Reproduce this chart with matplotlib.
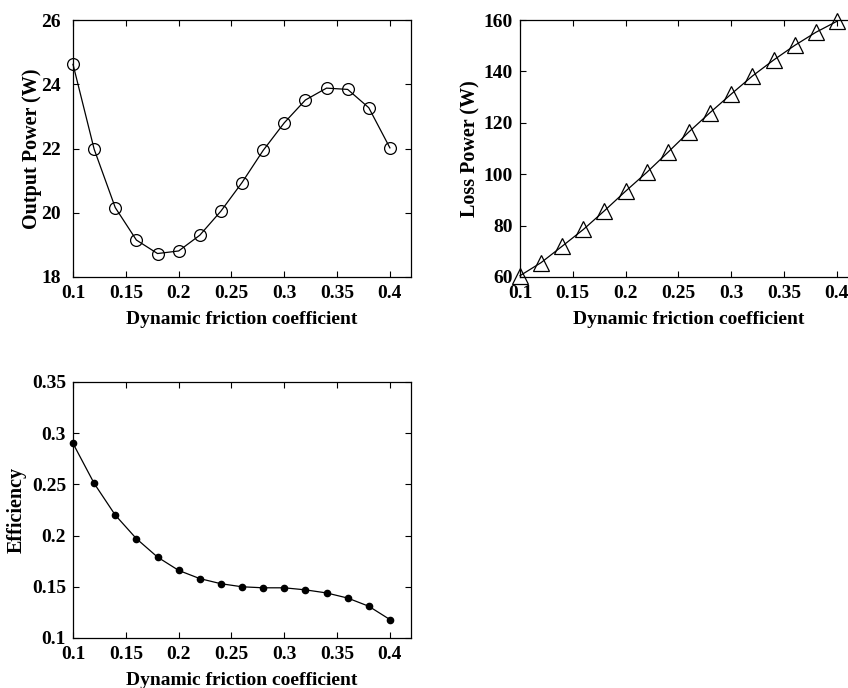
import numpy as np
import matplotlib
matplotlib.use('Agg')
import matplotlib.pyplot as plt

# friction coefficient values
mu = [0.10, 0.12, 0.14, 0.16, 0.18, 0.20, 0.22, 0.24,
      0.26, 0.28, 0.30, 0.32, 0.34, 0.36, 0.38, 0.40]

output_power = [24.62, 21.98, 20.16, 19.15, 18.73, 18.81, 19.30, 20.05,
                20.94, 21.94, 22.80, 23.51, 23.88, 23.84, 23.27, 22.02]

loss_power = [60.5, 65.6, 72.0, 78.5, 85.8, 93.4, 100.7, 108.5,
              116.5, 124.0, 131.2, 138.2, 144.4, 150.1, 155.2, 159.5]

efficiency = [0.290, 0.251, 0.220, 0.197, 0.179, 0.166, 0.158, 0.153,
              0.150, 0.149, 0.149, 0.147, 0.144, 0.139, 0.131, 0.118]

xticks = [0.1, 0.15, 0.2, 0.25, 0.3, 0.35, 0.4]
xticklabels = ['0.1', '0.15', '0.2', '0.25', '0.3', '0.35', '0.4']

plt.rcParams['font.family'] = ['Liberation Serif', 'DejaVu Serif']
plt.rcParams['font.weight'] = 'bold'
plt.rcParams['font.size'] = 14

fig = plt.figure(figsize=(8.48, 6.88), dpi=100)


def style(ax, ylabel, ypad=8, lpad=4):
    ax.set_xlim(0.1, 0.42)
    ax.set_xticks(xticks)
    ax.set_xticklabels(xticklabels)
    ax.tick_params(direction='in', top=True, right=True, length=4, width=0.8,
                   labelsize=14)
    ax.tick_params(axis='x', pad=6)
    ax.tick_params(axis='y', pad=ypad)
    for s in ax.spines.values():
        s.set_linewidth(0.9)
    ax.set_xlabel('Dynamic friction coefficient', fontsize=14, fontweight='bold', labelpad=6)
    ax.set_ylabel(ylabel, fontsize=14.5, fontweight='bold', labelpad=lpad)


ax1 = fig.add_axes([0.0861, 0.5974, 0.3986, 0.3735])
ax1.plot(mu, output_power, '-', color='black', lw=0.9, marker='o', ms=8.5,
         mfc='none', mec='black', mew=0.9, clip_on=False)
ax1.set_ylim(18, 26)
ax1.set_yticks([18, 20, 22, 24, 26])
style(ax1, 'Output Power (W)', ypad=9, lpad=-1)

ax2 = fig.add_axes([0.6132, 0.5974, 0.3986, 0.3735])
ax2.plot(mu, loss_power, '-', color='black', lw=0.9, marker='^', ms=11.5,
         mfc='none', mec='black', mew=0.9, clip_on=False)
ax2.set_ylim(60, 160)
ax2.set_yticks([60, 80, 100, 120, 140, 160])
style(ax2, 'Loss Power (W)', ypad=5, lpad=2)

ax3 = fig.add_axes([0.0861, 0.0727, 0.3986, 0.3721])
ax3.plot(mu, efficiency, '-', color='black', lw=0.9, marker='o', ms=4.5,
         mfc='black', mec='black', clip_on=False)
ax3.set_ylim(0.1, 0.35)
ax3.set_yticks([0.1, 0.15, 0.2, 0.25, 0.3, 0.35])
ax3.set_yticklabels(['0.1', '0.15', '0.2', '0.25', '0.3', '0.35'])
style(ax3, 'Efficiency', ypad=5)

fig.savefig('out.png', dpi=100)
